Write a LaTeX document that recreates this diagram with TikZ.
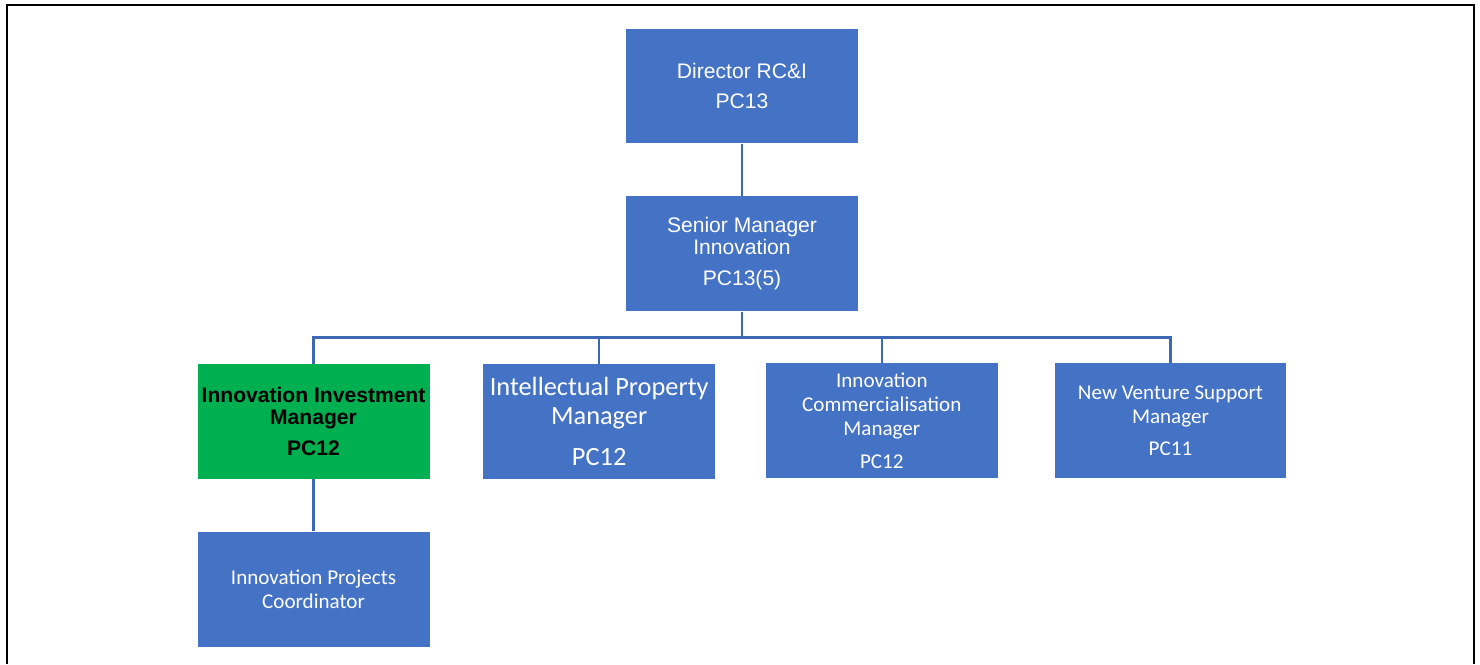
\documentclass[tikz,border=0pt]{standalone}
\usepackage{fontspec}
\setmainfont{Liberation Sans}
\newfontfamily\calibri{Carlito}
\usetikzlibrary{positioning}
\definecolor{boxblue}{HTML}{4472C4}
\definecolor{boxgreen}{HTML}{00B050}
\definecolor{linkblue}{HTML}{3D68B5}

\begin{document}
\begin{tikzpicture}[
  x=0.02cm, y=-0.02cm,
  node distance=1.04cm and 1.06cm,
  post/.style={rectangle, fill=boxblue, text=white, align=center,
               minimum width=4.64cm, minimum height=2.3cm, inner sep=1pt},
  head/.style={post, font=\fontsize{12}{12.5}\selectfont},
  staff/.style={post, font=\calibri\fontsize{12}{13.7}\selectfont},
  focus/.style={post, fill=boxgreen, text=black,
                font=\bfseries\fontsize{12}{12.5}\selectfont},
  link/.style={draw=linkblue, line width=1.2pt},
  frame/.style={draw=black, line width=1.2pt},
]
\useasboundingbox (0,0) rectangle (1480,664);
% --- page frame ---
\draw[frame] (7,664) -- (7,5) -- (1474,5) -- (1474,664);
% --- top of the chart ---
\node[head] (dir) at (742,86) {Director RC\&I\\[4.5pt]PC13};
\node[head, below=of dir] (sen) {Senior Manager\\Innovation\\[5pt]PC13(5)};
% --- managers ---
\node[staff, below left=1.04cm and 0.53cm of sen.south, anchor=north east,
      font=\calibri\fontsize{15}{16.5}\selectfont] (ip)
  {Intellectual Property\\Manager\\[6.8pt]PC12};
\node[focus, left=of ip] (iim) {Innovation Investment\\Manager\\[5pt]PC12};
\node[staff, below right=1.02cm and 0.47cm of sen.south, anchor=north west] (icm)
  {Innovation\\Commercialisation\\Manager\\[5pt]PC12};
\node[staff, right=1.12cm of icm] (nvs) {New Venture Support\\Manager\\[4.5pt]PC11};
% --- reports ---
\node[staff, below=of iim] (ipc) {Innovation Projects\\Coordinator};
% --- links ---
\draw[link] (dir) -- (sen);
\draw[link] (sen.south) -- ++(0,26) coordinate (bus);
\foreach \n in {iim,ip,icm,nvs}
  \draw[link] (bus) -| (\n.north);
\draw[link] (iim) -- (ipc);
\end{tikzpicture}
\end{document}
